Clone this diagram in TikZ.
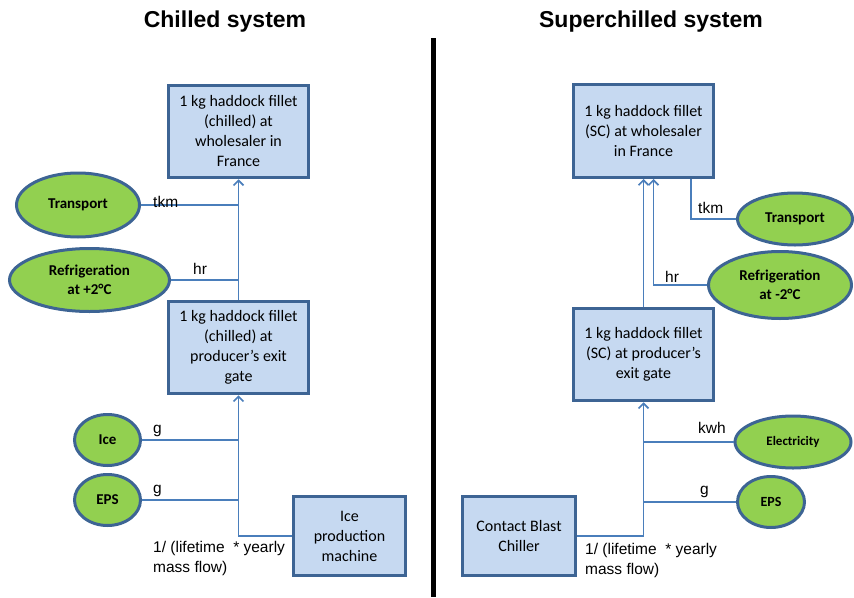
\documentclass[tikz,border=0pt]{standalone}
\usepackage{fontspec}
\setmainfont{Carlito}
\newfontfamily\arialfont{Liberation Sans}
\usetikzlibrary{shapes, arrows, arrows.meta, positioning}

\definecolor{boxfill}{HTML}{C6D9F1}
\definecolor{boxline}{HTML}{3D6494}
\definecolor{ovalfill}{HTML}{92D050}
\definecolor{flowline}{HTML}{4A7EBB}

\tikzset{
  process/.style={draw=boxline, line width=3pt, fill=boxfill, align=center, inner sep=0pt,
    minimum width=140pt, minimum height=92.5pt, font=\fontsize{16}{20}\selectfont},
  input/.style={ellipse, draw=boxline, line width=3pt, fill=ovalfill, align=center, inner sep=0pt,
    font=\bfseries\fontsize{15}{19}\selectfont},
  flow/.style={draw=flowline, line width=1.7pt},
  lbl/.style={inner sep=0pt, font=\arialfont\fontsize{15.5}{20}\selectfont},
  title/.style={inner sep=0pt, font=\arialfont\bfseries\fontsize{23}{26}\selectfont}
}

\begin{document}
\begin{tikzpicture}[x=1pt,y=-1pt,>={Straight Barb[length=5pt,width=10pt,line width=1.7pt]}]
\useasboundingbox (0,0) rectangle (854,597);

\node[title] (ttlC) at (225,22) {Chilled system};
\node[title] (ttlS) at (651,22) {Superchilled system};
\draw[line width=4.5pt] (433.5,38) -- (433.5,597);

\node[process] (wholeC) at (238.5,131.5) {1 kg haddock fillet\\(chilled) at\\wholesaler in\\France};
\node[process] (gateC) at (238.5,347.5) {1 kg haddock fillet\\(chilled) at\\producer’s exit\\gate};
\node[process, minimum width=112.5pt, minimum height=79.5pt] (iceM) at (349.5,536) {Ice\\production\\machine};
\node[input, minimum width=123pt, minimum height=64pt] (tptC) at (78,205) {Transport};
\node[input, minimum width=160pt, minimum height=63pt] (refC) at (89.5,280) {Refrigeration\\at +2°C};
\node[input, minimum width=66pt, minimum height=51pt] (ice) at (107.5,440) {Ice};
\node[input, minimum width=66pt, minimum height=51pt] (epsC) at (107.5,500) {EPS};

\draw[flow,->] (gateC.north) -- (wholeC.south);
\draw[flow] (tptC.east) -- (tptC.east -| wholeC.south);
\draw[flow] (refC.east) -- (refC.east -| wholeC.south);
\draw[flow,->] (iceM.west) -| (gateC.south);
\draw[flow] (ice.east) -- (ice.east -| gateC.south);
\draw[flow] (epsC.east) -- (epsC.east -| gateC.south);
\node[lbl, anchor=base west] at (153,207) {tkm};
\node[lbl, anchor=base west] at (193,274) {hr};
\node[lbl, anchor=base west] at (153,433) {g};
\node[lbl, anchor=base west] at (153,493) {g};
\node[lbl, anchor=north west, align=left] at (153,541) {1/ (lifetime \ * yearly\\mass flow)};

\node[process, minimum height=93pt] (wholeS) at (643.5,131) {1 kg haddock fillet\\(SC) at wholesaler\\in France};
\node[process] (gateS) at (643.5,354.5) {1 kg haddock fillet\\(SC) at producer’s\\exit gate};
\node[process, minimum width=113pt, minimum height=79pt] (blast) at (519,536) {Contact Blast\\Chiller};
\node[input, minimum width=115pt, minimum height=52pt] (tptS) at (795,219) {Transport};
\node[input, minimum width=143pt, minimum height=67pt] (refS) at (780,285) {Refrigeration\\at -2°C};
\node[input, minimum width=116pt, minimum height=52pt, font=\bfseries\fontsize{13}{16}\selectfont] (elec) at (793,442) {Electricity};
\node[input, minimum width=67pt, minimum height=51pt, font=\bfseries\fontsize{14}{17}\selectfont] (epsS) at (771,502) {EPS};

\draw[flow,->] (gateS.north) -- (wholeS.south);
\draw[flow,->] (refS.west) -| ([xshift=10pt]wholeS.south);
\draw[flow] (tptS.west) -| ([xshift=47.5pt]wholeS.south);
\draw[flow,->] (blast.east) -| (gateS.south);
\draw[flow] (elec.west) -- (elec.west -| gateS.south);
\draw[flow] (epsS.west) -- (epsS.west -| gateS.south);
\node[lbl, anchor=base west] at (698,213) {tkm};
\node[lbl, anchor=base west] at (665,282) {hr};
\node[lbl, anchor=base west] at (698,433) {kwh};
\node[lbl, anchor=base west] at (700,494) {g};
\node[lbl, anchor=north west, align=left] at (585,543) {1/ (lifetime \ * yearly\\mass flow)};
\end{tikzpicture}
\end{document}
